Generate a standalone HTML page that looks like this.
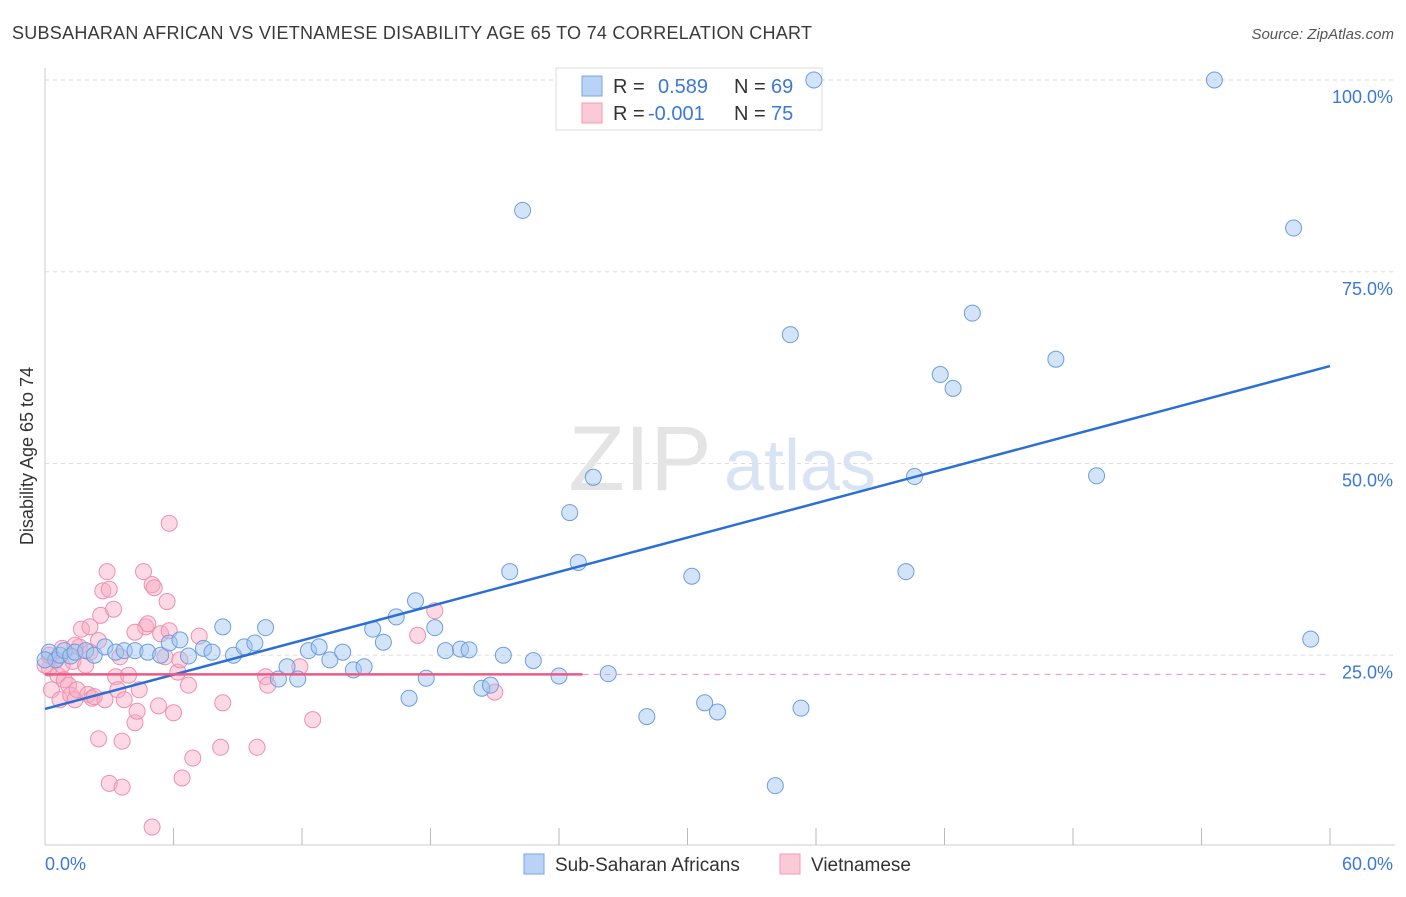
<!DOCTYPE html>
<html><head><meta charset="utf-8"><style>
body{margin:0;background:#fff;font-family:"Liberation Sans",sans-serif;}
svg text{font-family:"Liberation Sans",sans-serif;}
</style></head><body>
<svg id="chart" width="1406" height="892" viewBox="0 0 1406 892">
<text x="12" y="39" font-size="18" fill="#3a3a3a" textLength="800">SUBSAHARAN AFRICAN VS VIETNAMESE DISABILITY AGE 65 TO 74 CORRELATION CHART</text>
<text x="1394" y="39" font-size="15" fill="#555" font-style="italic" text-anchor="end">Source: ZipAtlas.com</text>
<g id="grid"></g>
<line x1="45" y1="68" x2="45" y2="845" stroke="#ccc"/>
<line x1="45" y1="845" x2="1395" y2="845" stroke="#ccc"/>
<g id="ticks"></g>
<text x="640" y="490" font-size="92" fill="#e4e4e4" font-family="Liberation Serif" text-anchor="middle">ZIP</text>
<text x="800" y="490" font-size="72" fill="#d8e4f4" text-anchor="middle">atlas</text>
<g>
<rect x="556" y="68" width="266" height="62" fill="#fff" stroke="#ddd"/>
<rect x="582" y="76" width="20" height="20" fill="#b8d3f5" stroke="#7aa6e0"/>
<rect x="582" y="103" width="20" height="20" fill="#fbc9d8" stroke="#f09ab5"/>
<text x="613" y="93" font-size="20" fill="#333">R = </text><text x="658" y="93" font-size="20" fill="#3b78d8">0.589</text>
<text x="734" y="93" font-size="20" fill="#333">N = </text><text x="771" y="93" font-size="20" fill="#3b78d8">69</text>
<text x="613" y="120" font-size="20" fill="#333">R = </text><text x="648" y="120" font-size="20" fill="#3b78d8">-0.001</text>
<text x="734" y="120" font-size="20" fill="#333">N = </text><text x="771" y="120" font-size="20" fill="#3b78d8">75</text>
</g>
<g id="pts"></g>
<g id="lines"></g>
<text x="33" y="456" font-size="18" fill="#333" text-anchor="middle" transform="rotate(-90 33 456)">Disability Age 65 to 74</text>
<text x="45" y="870" font-size="18" fill="#3b78d8">0.0%</text>
<text x="1393" y="870" font-size="18" fill="#3b78d8" text-anchor="end">60.0%</text>
<g>
<rect x="524" y="854" width="20" height="20" fill="#b8d3f5" stroke="#7aa6e0"/>
<text x="555" y="871" font-size="19" fill="#333">Sub-Saharan Africans</text>
<rect x="780" y="854" width="20" height="20" fill="#fbc9d8" stroke="#f09ab5"/>
<text x="811" y="871" font-size="19" fill="#333">Vietnamese</text>
</g>
</svg>
<script>
const yTicks=[25,50,75,100];
const xTickCount=10;
const blueX=[0.2,0.5,0.7,0.9,1.2,1.4,1.9,2.3,2.8,3.3,3.7,4.2,4.8,5.4,5.8,6.3,6.7,7.4,7.8,8.3,8.8,9.3,9.8,10.3,10.9,11.3,11.8,12.3,12.8,13.3,13.9,14.4,14.9,15.3,15.8,16.4,17.0,17.3,17.8,18.2,18.7,19.4,19.8,20.4,20.8,21.4,21.7,22.8,24.0,24.5,24.9,25.6,26.3,22.3,28.1,30.2,30.8,31.4,34.8,35.3,35.9,34.1,40.2,40.6,41.8,42.4,43.3,47.2,49.1,54.6,58.3,59.1,0];
const blueY=[25.4,24.4,25.0,25.6,24.9,25.4,25.6,25.0,26.1,25.4,25.6,25.6,25.4,25.0,26.6,27.0,24.9,25.9,25.4,28.7,25.0,26.1,26.6,28.6,21.9,23.5,21.9,25.6,26.1,24.4,25.4,23.1,23.5,28.4,26.7,30.0,19.4,32.1,22.0,28.6,25.6,25.8,25.7,20.7,21.1,25.0,35.9,24.3,22.3,43.6,37.1,48.2,22.6,83.0,17.0,35.3,18.8,17.6,66.8,18.1,100,8.0,35.9,48.3,61.6,59.8,69.6,63.6,48.4,100,80.7,27.1,24.4];
const pinkX=[0.2,0.3,0.5,0.6,0.7,0.8,0.9,1.1,1.2,1.3,1.4,1.5,1.6,1.7,1.9,2.0,2.1,2.2,2.3,2.5,2.6,2.7,2.8,2.9,3.0,3.2,3.3,3.4,3.5,3.6,3.7,3.9,4.2,4.3,4.4,4.6,4.7,4.8,5.0,5.1,5.3,5.4,5.6,5.7,5.8,6.0,6.2,6.3,6.4,6.7,6.9,7.2,8.2,8.3,9.9,10.3,10.4,11.9,12.5,17.4,18.2,21.0,5.0,3.0,3.6,2.5,4.2,5.8,0,0.2,0.8,1.4,2.1];
const pinkY=[23.3,20.5,24.4,22.4,19.2,23.7,21.8,21.1,19.8,24.2,19.2,20.5,26.1,28.4,23.7,19.9,28.7,19.4,19.6,26.9,30.2,33.4,19.2,35.9,33.6,31.0,22.2,20.5,24.8,13.8,19.2,22.4,16.2,17.7,20.5,35.9,28.7,29.1,34.2,33.8,18.4,27.8,24.8,32.0,42.2,17.5,22.8,24.4,9.0,21.1,11.6,27.5,13.0,18.8,13.0,22.2,21.1,23.5,16.6,27.6,30.8,20.2,2.6,8.3,7.8,14.1,28.0,28.2,23.7,25.0,25.9,26.3,25.4];
const blueLine=[18.0,0.745];   // intercept, slope
const pinkLine=[22.5,0];
const pinkLineEnd=25.1;
const X0=45,X1=1330,Y0=847,YS=7.67;
const sx=v=>X0+(v/60)*(X1-X0), sy=v=>Y0-v*YS;
const NS='http://www.w3.org/2000/svg';
function mk(tag,attrs,parent){const e=document.createElementNS(NS,tag);for(const k in attrs)e.setAttribute(k,attrs[k]);parent.appendChild(e);return e;}
const grid=document.getElementById('grid'),svg=document.getElementById('chart');
yTicks.forEach(t=>{
 const l=mk('line',{x1:45,x2:1395,y1:sy(t),y2:sy(t),stroke:'#ddd','stroke-dasharray':'4,4'},grid);
 
 
 const tx=mk('text',{x:1393,y:sy(t)+23,'font-size':18,fill:'#3b78d8','text-anchor':'end'},svg);
 tx.textContent=t.toFixed(1)+'%';
 
 
});
const ticks=document.getElementById('ticks');
for(let i=1;i<=xTickCount;i++){const x=sx(i*6);
 const l=mk('line',{x1:x,x2:x,y1:828,y2:845,stroke:'#bbb'},ticks);
 
 }
const pts=document.getElementById('pts');
pinkX.forEach((v,i)=>{const c=mk('circle',{cx:sx(v),cy:sy(pinkY[i]),r:8,fill:'rgba(248,170,195,0.45)',stroke:'#ef8fae','stroke-width':1},pts);
 
 });
blueX.forEach((v,i)=>{const c=mk('circle',{cx:sx(v),cy:sy(blueY[i]),r:8,fill:'rgba(160,196,240,0.45)',stroke:'#6b9ee0','stroke-width':1},pts);
 
 });
const lines=document.getElementById('lines');
const bl=mk('line',{x1:sx(0),y1:sy(blueLine[0]),x2:sx(60),y2:sy(blueLine[0]+blueLine[1]*60),stroke:'#2a6fd6','stroke-width':2.5},lines);


const pl=mk('line',{x1:sx(0),y1:sy(pinkLine[0]),x2:sx(pinkLineEnd),y2:sy(pinkLine[0]),stroke:'#ea5a86','stroke-width':2.5},lines);


const pd=mk('line',{x1:sx(pinkLineEnd),y1:sy(pinkLine[0]),x2:sx(60),y2:sy(pinkLine[0]),stroke:'#f0a0b8','stroke-width':1.2,'stroke-dasharray':'6,5'},lines);


</script>
</body></html>
